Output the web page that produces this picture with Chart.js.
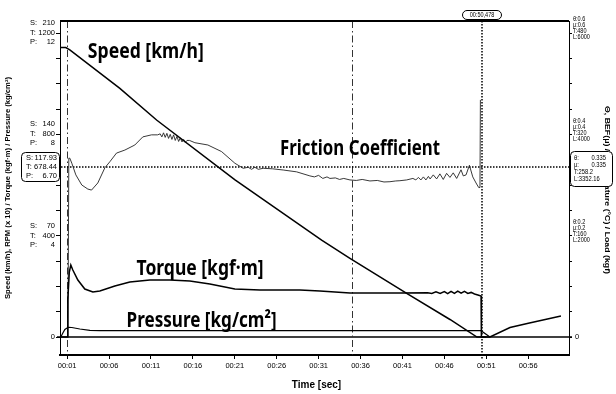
<!DOCTYPE html>
<html>
<head>
<meta charset="utf-8">
<script src="https://cdn.jsdelivr.net/npm/chart.js@4.4.1/dist/chart.umd.min.js"></script>
<style>
  html, body { margin: 0; padding: 0; background: #fff; }
</style>
</head>
<body>
<canvas id="brakeChart" width="616" height="394"></canvas>
<script>
    // Speed (km/h) against time (s)
    var speedTime = [0.1, 0.84, 1.32, 7.29, 11.67, 21.03, 31.36, 34.74, 41.51, 46.67, 49.89, 51.44, 53.83, 56.02, 59.91];
    var speedVals = [200, 200, 198.3, 171.8, 149.9, 108.5, 67.0, 54.4, 30.2, 12.1, 0, 0, 6.6, 9.5, 14.5];

    // Torque (kgf·m)
    var torqueTime = [0.1, 0.95, 1.02, 1.08, 1.26, 1.44, 1.68, 2.28, 3.11, 4.07, 4.90, 6.69, 8.48, 10.87, 13.25, 15.64, 18.03, 21.01, 24.0, 28.77, 31.16, 34.74, 40.70,
                      44.0, 44.5, 45.0, 45.5, 46.0, 46.4, 46.8, 47.2, 47.6, 48.0, 48.4, 48.8, 49.2, 49.6, 50.0, 50.38, 50.42, 51.0];
    var torqueVals = [0, 0, 0, 146, 256.6, 284.2, 264.5, 225, 189.5, 177.6, 181.6, 201.3, 217.1, 225, 225, 221, 209.2, 189.5, 185.5, 185.5, 181.6, 173.7, 173.7,
                      175, 172, 178, 172, 179, 171, 180, 172, 181, 173, 180, 172, 176, 170, 166, 162, 0, 0];

    // Pressure (kg/cm²)
    var pressureTime = [0.1, 0.25, 0.49, 0.73, 1.12, 1.56, 2.52, 3.71, 4.90, 10, 20, 30, 40, 50.37, 51.44];
    var pressureVals = [0, 0, 0.158, 0.296, 0.383, 0.375, 0.316, 0.264, 0.25, 0.25, 0.25, 0.249, 0.25, 0.25, 0];

    // Friction coefficient μ
    var frictionTime = [1.10, 1.20, 1.32, 1.56, 2.04, 2.75, 3.47, 3.91, 4.66, 5.50, 6.10, 6.89, 7.89, 9.08, 10.03, 11.07, 11.8,
                        12.1, 12.3, 12.5, 12.7, 12.9, 13.1, 13.3, 13.5, 13.7, 13.9, 14.1, 14.3, 14.5, 14.7, 14.9, 15.1, 15.3, 15.6,
                        16.24, 17.79, 19.42, 21.01, 22.0, 22.6, 23.0, 23.4, 23.8, 24.39, 25.5, 26.78, 28.37, 29.96,
                        30.5, 31.0, 31.5, 32.0, 32.35, 33.0, 33.5, 34.0, 34.74, 35.5, 36.2, 37.12, 38.0, 38.8, 39.51, 40.2, 40.70, 41.5, 42.25,
                        42.6, 42.9, 43.2, 43.5, 43.8, 44.1, 44.3, 44.68, 45.08, 45.47, 45.87, 46.27, 46.67, 47.06, 47.47, 47.99, 48.26, 48.59,
                        48.99, 49.39, 49.78, 50.10, 50.25, 50.30];
    var frictionVals = [0, 0.353, 0.353, 0.343, 0.320, 0.300, 0.292, 0.290, 0.304, 0.334, 0.346, 0.363, 0.369, 0.379, 0.395, 0.399, 0.399,
                        0.401, 0.395, 0.403, 0.394, 0.402, 0.392, 0.400, 0.390, 0.399, 0.388, 0.396, 0.386, 0.393, 0.385, 0.390, 0.384, 0.388, 0.388,
                        0.3835, 0.379, 0.366, 0.343, 0.333, 0.335, 0.331, 0.335, 0.331, 0.333, 0.332, 0.3296, 0.326, 0.318,
                        0.316, 0.319, 0.313, 0.316, 0.313, 0.314, 0.311, 0.313, 0.310, 0.309, 0.311, 0.308, 0.309, 0.306, 0.3065, 0.308, 0.3085, 0.310, 0.313,
                        0.310, 0.315, 0.310, 0.316, 0.310, 0.317, 0.312, 0.320, 0.312, 0.322, 0.311, 0.323, 0.315, 0.324, 0.313, 0.330, 0.318, 0.320,
                        0.339, 0.316, 0.304, 0.295, 0.295, 0.468];

    // Axis ticks and labels
    var timeTicks = [1, 6, 11, 16, 21, 26, 31, 36, 41, 46, 51, 56];
    var leftTickValues = [70, 140, 210];
    var speedTickLabels = ['70', '140', '210'];
    var torqueTickLabels = ['400', '800', '1200'];
    var pressureTickLabels = ['4', '8', '12'];
    var rightTickValues = [0.2, 0.4, 0.6];
    var thetaTickLabels = ['θ:0.2', 'θ:0.4', 'θ:0.6'];
    var muTickLabels = ['μ:0.2', 'μ:0.4', 'μ:0.6'];
    var tempTickLabels = ['T:160', 'T:320', 'T:480'];
    var loadTickLabels = ['L:2000', 'L:4000', 'L:6000'];

    // Cursor readout
    var cursorTime = 50.478;
    var cursorMu = 0.335;
    var cursorTimeLabel = '00:50,478';
    var cursorLeftLabels = [['S:', '117.93'], ['T:', '678.44'], ['P:', '6.70']];
    var cursorRightLabels = [['θ:', '0.335'], ['μ:', '0.335'], ['T:258.2', ''], ['L:3352.16', '']];
    var markerTimes = [1, 35];

    // Series captions: [text, time, speed-scale value at baseline, width]
    var captions = [
        ['Speed [km/h]', 3.47, 193, 116],
        ['Friction Coefficient', 26.4, 125.5, 160],
        ['Torque [kgf·m]', 9.28, 42.5, 127],
        ['Pressure [kg/cm²]', 8.09, 6.9, 150]
    ];

    // All vertical scales share one grid: 210 km/h = 1200 kgf·m = 12 kg/cm² = 0.6 μ
    var S_MIN = -12.43, S_MAX = 218.3;
    var X_MIN = 0.15, X_MAX = 60.87;
    var K_TORQUE = 1200 / 210, K_PRESS = 12 / 210, K_MU = 0.6 / 210;

    function pts(xs, ys) {
        return xs.map(function (x, i) { return { x: x, y: ys[i] }; });
    }

    function line(ctx, x1, y1, x2, y2) {
        ctx.beginPath();
        ctx.moveTo(x1, y1);
        ctx.lineTo(x2, y2);
        ctx.stroke();
    }

    function roundBox(ctx, x, y, w, h, r) {
        ctx.beginPath();
        ctx.moveTo(x + r, y);
        ctx.lineTo(x + w - r, y);
        ctx.arcTo(x + w, y, x + w, y + r, r);
        ctx.lineTo(x + w, y + h - r);
        ctx.arcTo(x + w, y + h, x + w - r, y + h, r);
        ctx.lineTo(x + r, y + h);
        ctx.arcTo(x, y + h, x, y + h - r, r);
        ctx.lineTo(x, y + r);
        ctx.arcTo(x, y, x + r, y, r);
        ctx.closePath();
    }

    // draw text squeezed horizontally into a given width
    function squeeze(ctx, text, x, y, width) {
        var w = ctx.measureText(text).width;
        ctx.save();
        ctx.translate(x, y);
        ctx.scale(width / w, 1);
        ctx.fillText(text, 0, 0);
        ctx.restore();
    }

    function narrow(ctx, text, x, y, sx) {
        ctx.save();
        ctx.translate(x, y);
        ctx.scale(sx, 1);
        ctx.fillText(text, 0, 0);
        ctx.restore();
    }

    var overlay = {
        id: 'overlay',
        beforeDatasetsDraw: function (chart) {
            var ctx = chart.ctx, a = chart.chartArea;
            var sx = chart.scales.x, sS = chart.scales.yS, sMu = chart.scales.yMu;
            ctx.save();
            // zero line
            var y0 = sS.getPixelForValue(0);
            ctx.strokeStyle = '#000';
            ctx.lineWidth = 1.3;
            line(ctx, a.left - 3, y0, a.right + 3, y0);
            // dash-dot markers
            ctx.setLineDash([7, 3, 1.5, 3]);
            ctx.lineWidth = 1;
            ctx.strokeStyle = '#333';
            markerTimes.forEach(function (t) {
                var x = Math.round(sx.getPixelForValue(t)) + 0.5;
                line(ctx, x, a.top, x, a.bottom);
            });
            // cursor crosshair
            ctx.setLineDash([1.5, 1.5]);
            ctx.lineWidth = 1.5;
            ctx.strokeStyle = '#000';
            var cy = Math.round(sMu.getPixelForValue(cursorMu));
            line(ctx, a.left - 2, cy, a.right + 2, cy);
            var cx = Math.round(sx.getPixelForValue(cursorTime));
            line(ctx, cx, a.top - 3, cx, a.bottom + 5);
            ctx.restore();
        },
        afterDraw: function (chart) {
            var ctx = chart.ctx, a = chart.chartArea;
            var sx = chart.scales.x, sS = chart.scales.yS, sMu = chart.scales.yMu;
            ctx.save();
            ctx.fillStyle = '#000';
            ctx.strokeStyle = '#000';

            // top frame line
            ctx.lineWidth = 2;
            line(ctx, a.left, a.top, a.right, a.top);

            // left tick labels
            ctx.font = '7.5px "Liberation Sans"';
            ctx.textBaseline = 'middle';
            leftTickValues.forEach(function (v, i) {
                var y = sS.getPixelForValue(v);
                ctx.textAlign = 'left';
                ctx.fillText('S:', 30, y - 10);
                ctx.fillText('T:', 30, y);
                ctx.fillText('P:', 30, y + 9);
                ctx.textAlign = 'right';
                ctx.fillText(speedTickLabels[i], 55, y - 10);
                ctx.fillText(torqueTickLabels[i], 55, y);
                ctx.fillText(pressureTickLabels[i], 55, y + 9);
            });
            var y0 = sS.getPixelForValue(0);
            ctx.textAlign = 'right';
            ctx.fillText('0', 55, y0);

            // right tick labels
            ctx.font = '6.5px "Liberation Sans"';
            ctx.textAlign = 'left';
            rightTickValues.forEach(function (v, i) {
                var y = sMu.getPixelForValue(v) - 1.5;
                narrow(ctx, thetaTickLabels[i], a.right + 4, y - 12, 0.85);
                narrow(ctx, muTickLabels[i], a.right + 4, y - 6, 0.85);
                narrow(ctx, tempTickLabels[i], a.right + 4, y, 0.85);
                narrow(ctx, loadTickLabels[i], a.right + 4, y + 6, 0.85);
            });
            ctx.font = '7.5px "Liberation Sans"';
            ctx.fillText('0', a.right + 6, y0);

            // axis titles
            ctx.textAlign = 'center';
            ctx.font = 'bold 10px "Liberation Sans"';
            ctx.fillText('Time [sec]', (a.left + a.right) / 2 + 2, 385);

            ctx.font = 'bold 7px "Liberation Sans"';
            ctx.save();
            ctx.translate(8, 188);
            ctx.rotate(-Math.PI / 2);
            squeeze(ctx, 'Speed (km/h), RPM (x 10) / Torque (kgf·m) / Pressure (kg/cm²)', 0, 0, 222);
            ctx.restore();

            ctx.save();
            ctx.translate(607, 190);
            ctx.rotate(Math.PI / 2);
            squeeze(ctx, 'Θ, BEF(μ) / Temperature (°C) / Load (kgf)', 0, 0, 168);
            ctx.restore();

            // cursor readout boxes
            var cy = Math.round(sMu.getPixelForValue(cursorMu));
            var cx = Math.round(sx.getPixelForValue(cursorTime));
            ctx.lineWidth = 1;
            ctx.setLineDash([]);
            ctx.fillStyle = '#fff';
            roundBox(ctx, 21.5, cy - 14.5, 38, 29, 4);
            ctx.fill();
            ctx.stroke();
            roundBox(ctx, a.right + 1.5, cy - 15.5, 42, 35, 4);
            ctx.fill();
            ctx.stroke();
            roundBox(ctx, cx - 19.5, a.top - 10.5, 39, 9, 4.5);
            ctx.fill();
            ctx.stroke();

            ctx.fillStyle = '#000';
            ctx.font = '7.5px "Liberation Sans"';
            cursorLeftLabels.forEach(function (row, i) {
                var y = cy - 9 + i * 9;
                ctx.textAlign = 'left';
                ctx.fillText(row[0], 26, y);
                ctx.textAlign = 'right';
                ctx.fillText(row[1], 57, y);
            });
            ctx.font = '6.8px "Liberation Sans"';
            cursorRightLabels.forEach(function (row, i) {
                var y = cy - 9 + i * 7;
                ctx.textAlign = 'left';
                narrow(ctx, row[0], a.right + 5, y, 0.85);
                ctx.textAlign = 'right';
                if (row[1]) narrow(ctx, row[1], a.right + 37, y, 0.85);
            });
            ctx.font = '6.5px "Liberation Sans"';
            ctx.textAlign = 'center';
            narrow(ctx, cursorTimeLabel, cx, a.top - 6, 0.85);

            // series captions
            ctx.font = 'bold 21px "Noto Sans"';
            ctx.textAlign = 'left';
            ctx.textBaseline = 'alphabetic';
            captions.forEach(function (c) {
                squeeze(ctx, c[0], sx.getPixelForValue(c[1]), sS.getPixelForValue(c[2]), c[3]);
            });

            ctx.restore();
        }
    };

    function gridTicks(step, top) {
        return function (scale) {
            var t = [];
            for (var v = 0; v <= top + 1e-9; v += step) t.push({ value: v });
            scale.ticks = t;
        };
    }

    var ctx = document.getElementById('brakeChart').getContext('2d');

    var brakeChart = new Chart(ctx, {
        type: 'line',
        data: {
            datasets: [{
                label: 'Speed',
                data: pts(speedTime, speedVals),
                borderColor: '#000',
                borderWidth: 1.5,
                yAxisID: 'yS'
            }, {
                label: 'Torque',
                data: pts(torqueTime, torqueVals),
                borderColor: '#000',
                borderWidth: 1.5,
                yAxisID: 'yT'
            }, {
                label: 'Pressure',
                data: pts(pressureTime, pressureVals),
                borderColor: '#000',
                borderWidth: 1.2,
                yAxisID: 'yP'
            }, {
                label: 'Friction Coefficient',
                data: pts(frictionTime, frictionVals),
                borderColor: '#222',
                borderWidth: 0.9,
                yAxisID: 'yMu'
            }]
        },
        options: {
            responsive: false,
            animation: false,
            events: [],
            layout: { padding: { top: 21, left: 0, right: 0, bottom: 0 } },
            elements: { point: { radius: 0 }, line: { tension: 0 } },
            plugins: { legend: { display: false }, tooltip: { enabled: false } },
            scales: {
                x: {
                    type: 'linear',
                    position: 'bottom',
                    min: X_MIN,
                    max: X_MAX,
                    afterBuildTicks: function (scale) {
                        scale.ticks = timeTicks.map(function (v) { return { value: v }; });
                    },
                    afterFit: function (scale) { scale.height = 39; },
                    ticks: {
                        autoSkip: false,
                        maxRotation: 0,
                        padding: 2,
                        color: '#000',
                        font: { family: 'Liberation Sans', size: 7.5 },
                        callback: function (v) { return '00:' + (v < 10 ? '0' : '') + v; }
                    },
                    grid: { drawOnChartArea: false, tickLength: 4, color: '#000' },
                    border: { color: '#000', width: 2 }
                },
                yS: {
                    position: 'left',
                    min: S_MIN,
                    max: S_MAX,
                    afterBuildTicks: gridTicks(17.5, 210),
                    afterFit: function (scale) { scale.width = 60; },
                    ticks: { display: false },
                    grid: { drawOnChartArea: false, tickLength: 4, color: '#000' },
                    border: { color: '#000', width: 1 }
                },
                yMu: {
                    position: 'right',
                    min: S_MIN * K_MU,
                    max: S_MAX * K_MU,
                    afterBuildTicks: gridTicks(0.05, 0.6),
                    afterFit: function (scale) { scale.width = 47; },
                    ticks: { display: false },
                    grid: { drawOnChartArea: false, tickLength: 3, color: '#000' },
                    border: { color: '#000', width: 1 }
                },
                yT: { display: false, min: S_MIN * K_TORQUE, max: S_MAX * K_TORQUE },
                yP: { display: false, min: S_MIN * K_PRESS, max: S_MAX * K_PRESS }
            }
        },
        plugins: [overlay]
    });
</script>
</body>
</html>
